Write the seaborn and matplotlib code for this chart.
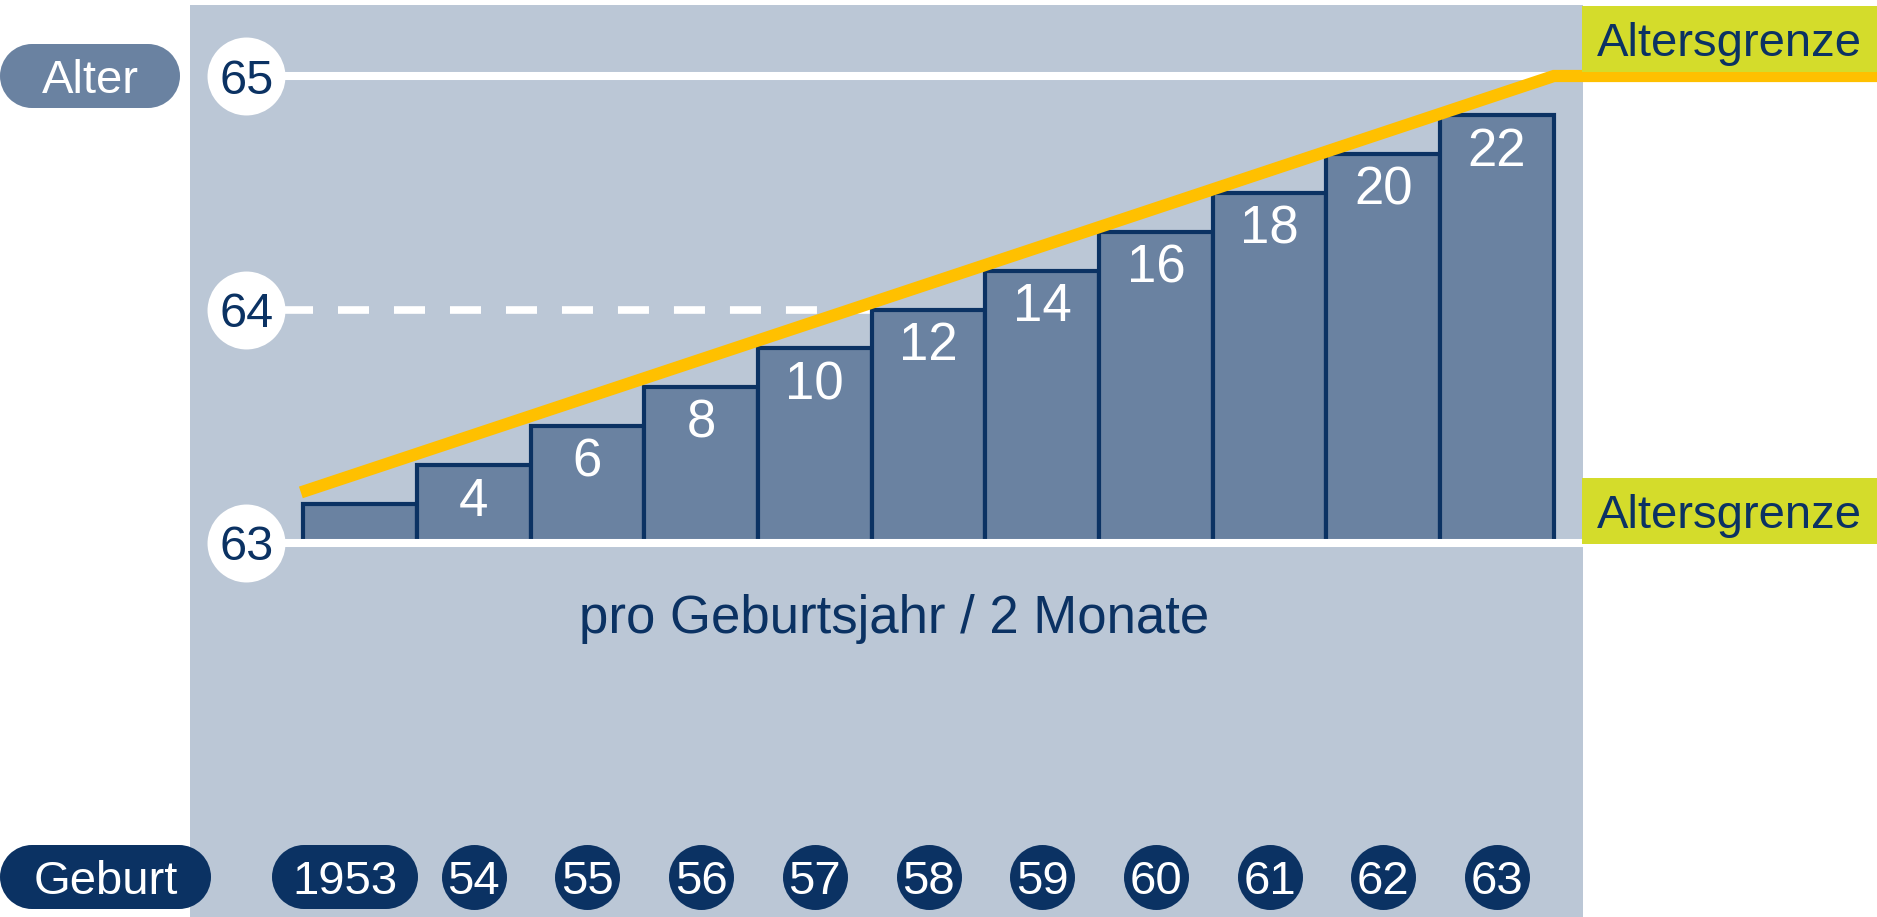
import matplotlib
matplotlib.use("Agg")
import matplotlib.pyplot as plt
import matplotlib.transforms as mtransforms
from matplotlib.patches import Circle, Rectangle
import pandas as pd
import seaborn as sns

# data
years = ["1953", "54", "55", "56", "57", "58", "59", "60", "61", "62", "63"]
months = [2, 4, 6, 8, 10, 12, 14, 16, 18, 20, 22]   # extra months per birth year
age_lines = [63, 64, 65]
# path of the yellow "Altersgrenze" line (x in bar slots, y in months above 63)
limit_x = [-0.52, 10.5, 13.5]
limit_m = [2.6, 24, 24]

NAVY = "#0b3263"
BAR = "#6a82a1"
PANEL = "#bbc7d6"
YELLOW = "#ffc000"
LIME = "#d4dc2b"

sns.set_theme(style="white")
plt.rcParams["font.family"] = ["Liberation Sans", "DejaVu Sans"]

W, H = 1877, 917
X0, PPB = 360, 113.7        # pixel of first bar centre, pixels per bar slot
Y0, PPM = 543, 467 / 24     # pixel of the 63 line, pixels per month


def bx(px):
    return (px - X0) / PPB


def bm(py):
    return (Y0 - py) / PPM


fig = plt.figure(figsize=(W / 100, H / 100), dpi=100)
ax = fig.add_axes([0, 0, 1, 1])
pix = mtransforms.Affine2D().scale(1 / W, -1 / H).translate(0, 1) + fig.transFigure


def pill(x0, y0, x1, y1, color, text, tcolor="white", size=34):
    r = (y1 - y0) / 2
    ax.add_patch(Rectangle((x0 + r, y0), x1 - x0 - 2 * r, 2 * r, fc=color,
                           ec="none", transform=pix, zorder=5))
    for cx in [x0 + r, x1 - r]:
        ax.add_patch(Circle((cx, y0 + r), r, fc=color, ec="none",
                            transform=pix, zorder=5))
    ax.text((x0 + x1) / 2, y0 + r, text, color=tcolor, size=size,
            ha="center", va="center_baseline", transform=pix, zorder=6)


# background panel
ax.add_patch(Rectangle((190, 5), 1583 - 190, H - 5, fc=PANEL, ec="none",
                       transform=pix, zorder=0.5))

# bars
df = pd.DataFrame({"jahr": years, "monate": months})
sns.barplot(data=df, x="jahr", y="monate", width=1.0, color=BAR, saturation=1,
            edgecolor=NAVY, linewidth=3.0, errorbar=None, ax=ax, zorder=2)

for i, m in enumerate(months):
    if i == 0:
        continue
    ax.text(i, m - 1.6, str(m), color="white", size=38, ha="center",
            va="center_baseline", zorder=6)

# age reference lines
ages_m = [(a - age_lines[0]) * 12 for a in age_lines]
for a, m in zip(age_lines, ages_m):
    if a == 64:
        ax.plot([bx(282), 4.5], [m, m], color="white", lw=5.5,
                dashes=(4.06, 3.27), solid_capstyle="butt", zorder=1)
    else:
        ax.plot([-1, bx(1583)], [m, m], color="white", lw=5.8,
                solid_capstyle="butt", zorder=3)
ax.scatter([-1] * len(ages_m), ages_m, s=3150, color="white", lw=0, zorder=5)
for a, m in zip(age_lines, ages_m):
    ax.text(-1, m, str(a), color=NAVY, size=35, ha="center",
            va="center_baseline", zorder=6)

# yellow age-limit line
ax.plot(limit_x, limit_m, color=YELLOW, lw=8.8, solid_capstyle="butt",
        solid_joinstyle="miter", zorder=4)

# Altersgrenze boxes
for top in [6, 478]:
    ax.add_patch(Rectangle((1582, top), W - 1582, 66, fc=LIME, ec="none",
                           transform=pix, zorder=5))
    ax.text(1597, top + 33, "Altersgrenze", color=NAVY, size=34, ha="left",
            va="center_baseline", transform=pix, zorder=6)

ax.text(894, 614, "pro Geburtsjahr / 2 Monate", color=NAVY, size=38,
        ha="center", va="center_baseline", transform=pix, zorder=6)

# label pills
pill(0, 44, 180, 108, BAR, "Alter")
pill(0, 845, 211, 909, NAVY, "Geburt")
pill(272, 845, 418, 909, NAVY, years[0])

row_m = bm(877)
ax.scatter(range(1, len(years)), [row_m] * (len(years) - 1), s=2190,
           color=NAVY, lw=0, zorder=5)
for i, y in enumerate(years[1:], start=1):
    ax.text(i, row_m, y, color="white", size=34, ha="center",
            va="center_baseline", zorder=6)

ax.set_xlim(bx(0), bx(W))
ax.set_ylim(bm(H), bm(0))
ax.axis("off")

fig.savefig("out.png", dpi=100)
